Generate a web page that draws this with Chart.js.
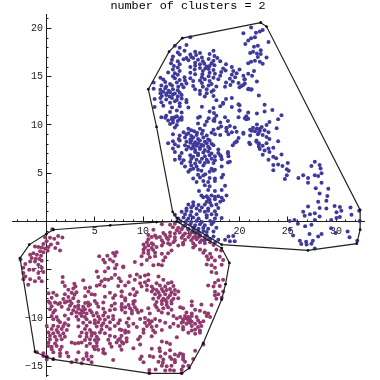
<!DOCTYPE html>
<html>
<head>
<meta charset="utf-8">
<style>html,body{margin:0;padding:0;background:#fff}canvas{display:block}</style>
<script src="https://cdn.jsdelivr.net/npm/chart.js@4"></script>
</head>
<body>
<canvas id="c" width="380" height="380"></canvas>
<script>
const chartTitle = "number of clusters = 2";
const xTickValues = [5, 10, 15, 20, 25, 30];
const yTickValues = [-15, -10, -5, 5, 10, 15, 20];

// flat reading list: x, y, x, y, ...
const blueUpperLeft = [
14.9,19.1, 13.3,18.2, 13.8,18.0, 14.5,18.3, 13.6,17.5, 14.3,17.7, 14.9,17.3, 15.4,17.6, 15.9,17.45, 17.3,17.7,
13.1,17.1, 13.8,17.3, 14.5,16.95, 15.0,17.05, 15.5,17.25, 16.1,17.0, 16.9,17.35, 17.4,17.15, 17.7,16.95,
13.0,16.75, 14.2,16.8, 14.7,16.7, 15.2,16.95, 15.7,16.75, 16.2,16.6, 16.8,16.85, 17.3,16.65,
12.9,16.4, 13.6,16.6, 15.4,16.45, 15.9,16.3, 16.35,16.35, 16.6,16.05, 17.1,16.4, 18.0,16.6,
13.2,16.1, 13.8,16.3, 14.9,16.0, 15.4,16.15, 15.9,15.9, 16.45,15.85, 16.9,16.1, 17.4,16.2, 18.6,16.3,
13.1,15.75, 13.6,15.95, 15.35,15.75, 16.2,15.6, 16.8,15.8, 17.3,15.7, 18.3,15.85, 18.55,15.65, 19.2,16.0, 20.0,15.75,
12.6,15.45, 13.3,15.35, 13.8,15.6, 14.9,15.4, 16.15,15.25, 16.9,15.4, 17.45,15.3, 18.1,15.5, 19.35,15.6, 19.7,15.35,
13.1,15.05, 13.6,15.2, 14.3,14.95, 15.4,15.25, 16.1,14.95, 16.8,15.05, 17.3,14.9, 18.0,15.1, 19.2,15.2, 19.55,14.95, 20.4,15.1,
11.8,14.9, 12.1,14.7, 13.3,14.85, 13.8,14.65, 14.35,14.6, 14.9,14.85, 15.9,14.6, 16.4,14.75, 16.9,14.55, 17.8,14.75, 19.0,14.8, 19.3,14.5, 20.5,14.7,
11.1,14.4, 12.3,14.45, 12.8,14.25, 13.5,14.4, 14.0,14.2, 14.5,14.3, 15.2,14.55, 16.1,14.35, 17.1,14.25, 18.6,14.4, 19.05,14.15, 19.9,14.35,
11.9,14.1, 12.4,14.0, 13.0,14.1, 13.65,13.95, 14.2,13.9, 15.2,14.05, 16.2,13.95, 16.8,14.1, 17.6,14.0, 18.5,13.95, 20.0,13.9, 20.4,14.15,
11.1,13.75, 11.8,13.65, 12.3,13.8, 12.65,13.55, 13.1,13.7, 13.6,13.6, 15.4,13.7, 15.9,13.55, 16.6,13.7, 17.3,13.6, 20.9,13.7, 21.2,13.65,
11.8,13.3, 12.1,13.45, 12.45,13.25, 12.8,13.4, 13.3,13.25, 13.8,13.35, 15.9,13.2, 16.6,13.3, 17.1,13.45,
11.95,13.0, 12.4,13.1, 12.75,12.95, 13.1,13.15, 13.6,12.95, 14.0,13.1, 16.4,12.95, 17.3,13.0,
11.2,12.7, 11.8,12.8, 12.4,12.65, 13.0,12.8, 13.5,12.6, 14.0,12.75, 14.5,12.6, 17.6,12.55, 19.2,12.8, 18.6,12.7,
11.9,12.35, 12.8,12.3, 13.3,12.45, 13.8,12.25, 14.5,12.35, 18.3,12.3,
11.2,11.85, 12.1,12.0, 13.0,11.8, 13.8,11.95, 14.7,11.8, 16.1,11.9, 17.3,11.75, 18.0,11.95, 19.2,11.85, 20.0,12.05,
12.8,11.35, 13.5,11.5, 14.0,11.3, 16.9,11.4, 17.35,11.25, 20.0,11.5, 20.9,11.3,
11.9,10.8, 12.4,10.95, 13.0,10.75, 13.5,10.9, 14.0,10.8, 15.9,10.85, 16.8,10.7, 17.6,10.95, 19.9,10.8, 20.7,10.9,
12.6,10.45, 13.1,10.55, 13.6,10.4, 14.0,10.55, 17.4,10.4
];
const blueTopRight = [
21.2,20.1, 20.4,19.5, 21.7,19.55, 22.4,19.85, 22.1,19.7, 21.6,19.1, 21.2,19.0, 20.9,18.75, 20.6,18.4, 23.0,18.6,
21.5,18.1, 21.9,18.2, 22.2,17.75, 21.4,17.6, 21.8,17.4, 22.2,17.35, 21.1,17.45, 21.9,17.05, 22.8,17.0,
20.9,16.4, 22.4,16.35, 21.2,16.55, 21.6,16.65, 22.1,16.55, 21.5,15.6, 20.9,15.3, 21.3,15.1, 20.55,14.75, 21.8,14.5,
20.55,14.3, 20.2,14.05, 20.95,13.75, 21.25,13.7, 22.0,13.05, 22.6,12.1, 19.9,12.15, 20.0,11.5, 18.3,12.2,
20.55,10.7, 20.9,10.65, 21.8,11.2, 22.6,11.4, 23.4,11.55, 24.35,11.0, 24.0,10.6, 23.1,10.3, 23.85,9.65, 21.4,9.7, 22.1,9.6,
22.8,10.0, 21.8,10.05, 22.3,9.8, 21.1,9.5, 22.6,9.45, 21.6,9.35, 23.0,9.25, 21.9,9.05, 22.4,8.95, 22.8,8.75, 23.1,8.55,
21.0,8.15, 22.8,8.1, 21.75,8.25, 24.0,8.3, 19.7,8.25, 22.0,8.0, 22.4,7.85, 19.3,7.9, 23.0,7.55, 23.5,7.65, 22.6,7.35, 23.1,7.2, 22.4,6.9, 24.35,6.95,
23.5,6.7, 18.1,6.7, 23.8,6.55, 23.0,6.4, 25.0,6.05, 23.5,5.85, 24.0,5.9, 24.45,5.75, 24.9,5.4, 25.1,5.25, 23.5,5.3, 24.9,4.8, 24.7,4.4,
20.4,9.1, 19.7,9.3, 18.65,9.65, 18.8,7.05, 19.0,6.2
];
const blueFarRight = [
26.1,4.5, 26.6,4.8, 27.8,6.2, 27.45,5.75, 28.3,5.85, 28.4,5.5, 28.5,5.0, 27.8,4.8, 27.1,4.5, 28.15,4.7, 27.1,4.0, 28.5,4.0,
27.9,3.45, 29.2,3.4, 28.3,2.9, 29.1,2.65, 28.15,2.05, 29.0,2.15, 28.3,1.4, 29.0,1.35, 27.1,1.55, 29.85,1.6, 30.4,1.5, 26.6,1.0, 30.05,0.95,
30.55,1.1, 32.4,1.1, 31.5,1.45, 31.6,0.7, 26.75,0.6, 27.8,0.85, 27.3,0.75, 28.3,0.5, 30.4,0.45, 30.05,0.35, 29.5,0.15, 27.8,0.15, 25.7,0.15, 25.2,0.05, 32.45,0.05,
26.05,-0.25, 26.8,-0.5, 27.45,-0.35, 25.2,-0.85, 25.55,-1.45, 27.25,-1.3, 28.5,-1.3, 28.15,-1.55, 26.25,-2.0, 27.6,-2.0, 32.2,-2.0, 26.9,-2.1,
26.4,-2.35, 26.95,-2.4, 27.45,-2.3, 27.8,-2.8, 29.5,-0.7, 29.95,-1.2, 31.2,-1.05, 31.4,-1.65
];
const blueMiddle = [
12.3,10.75, 13.0,10.6, 13.3,10.8, 13.8,10.65, 15.7,10.75, 17.4,10.65, 18.5,10.8, 20.7,10.6,
16.6,10.35, 17.3,10.45, 18.0,10.25, 18.8,10.4, 12.8,10.1, 13.1,10.25, 13.5,10.0, 15.7,10.15, 16.4,10.0,
13.3,9.75, 18.1,9.85, 18.65,9.7, 19.0,9.9, 19.5,9.75, 21.8,9.6,
14.7,9.6, 15.0,9.45, 15.9,9.6, 17.3,9.5, 17.8,9.65, 22.1,9.4,
14.2,9.25, 14.7,9.15, 15.3,9.35, 15.6,9.2, 16.2,9.4, 17.1,9.2, 18.65,9.35, 19.2,9.25, 20.4,9.2, 21.25,9.4, 22.0,9.2,
13.1,9.05, 13.8,8.9, 14.5,9.0, 15.0,8.85, 15.55,8.95, 16.1,9.1, 16.6,8.9, 17.45,9.05, 18.0,8.95, 18.85,9.05, 21.1,8.9,
13.7,8.55, 14.35,8.7, 14.9,8.5, 15.2,8.7, 15.7,8.55, 16.25,8.7, 16.75,8.5, 19.9,8.65,
13.1,8.3, 13.8,8.4, 14.5,8.25, 15.0,8.4, 15.4,8.2, 15.9,8.4, 16.4,8.25, 16.9,8.4, 19.7,8.3, 21.75,8.4,
12.6,8.1, 13.3,8.0, 14.9,8.15, 15.2,7.95, 15.7,8.1, 16.05,7.95, 16.6,8.1, 17.1,8.05, 19.5,8.15, 21.1,8.0, 22.0,8.1,
13.65,7.8, 14.35,7.9, 14.7,7.75, 15.2,7.7, 15.55,7.85, 15.9,7.7, 16.25,7.85, 16.75,7.75, 17.3,7.9, 22.0,7.75,
13.1,7.55, 14.5,7.45, 15.0,7.55, 15.4,7.4, 15.9,7.5, 16.4,7.4, 16.9,7.55, 17.8,7.45, 22.1,7.5,
13.3,7.2, 14.0,7.1, 15.4,7.2, 15.7,7.05, 16.25,7.15, 16.75,7.25, 17.1,7.05, 18.8,7.2, 17.8,7.1,
13.8,6.75, 14.9,6.85, 15.2,6.7, 15.7,6.85, 16.4,6.75, 16.9,6.85, 17.45,6.75, 18.0,6.85, 18.85,6.75,
13.3,6.4, 13.8,6.5, 14.2,6.35, 15.0,6.5, 15.55,6.4, 16.1,6.5, 16.6,6.4, 17.1,6.5, 17.45,6.35, 18.15,6.45,
14.0,6.05, 14.9,6.15, 15.4,6.0, 15.9,6.15, 16.4,6.05, 16.75,6.15, 17.3,6.05, 18.8,6.1,
14.35,5.7, 15.0,5.8, 15.55,5.7, 16.25,5.8, 18.15,5.7, 14.9,5.35, 15.2,5.45, 15.7,5.35, 17.1,5.45, 17.45,5.35,
14.7,5.15, 16.05,5.25, 16.9,5.15, 17.3,5.25, 15.7,4.85, 16.25,4.75, 18.3,4.85, 16.45,4.9,
15.2,4.45, 15.9,4.55, 16.9,4.5, 17.45,4.45, 18.15,4.55, 15.55,4.1, 16.25,4.2, 16.75,4.1, 17.45,4.2,
16.4,3.75, 16.9,3.65, 18.5,3.7, 15.8,3.15, 16.75,3.25, 17.45,3.15, 18.15,3.25,
16.05,2.7, 16.6,2.6, 17.1,2.7, 17.8,2.6, 18.65,2.7, 16.9,2.25, 17.45,2.3, 18.3,2.2
];
const blueLower = [
16.25,2.5, 16.75,2.4, 17.45,2.55, 18.15,2.45, 16.6,2.05, 16.95,1.95, 18.0,2.05, 15.2,2.0,
14.7,1.75, 15.2,1.65, 15.75,1.7, 16.4,1.75, 17.1,1.65, 17.6,1.75, 14.5,1.35, 15.0,1.45, 15.55,1.35, 16.1,1.45, 16.75,1.35, 17.8,1.4,
14.0,1.0, 14.5,1.1, 15.0,1.0, 15.9,1.1, 16.4,1.0, 16.75,1.1, 17.45,1.05, 13.3,0.7, 14.35,0.75, 14.9,0.65, 15.55,0.75, 16.6,0.65, 17.1,0.75, 17.6,0.7,
13.65,0.3, 14.2,0.4, 14.7,0.3, 15.2,0.4, 15.75,0.3, 16.6,0.4, 17.45,0.3, 18.15,0.35, 13.85,-0.05, 14.5,0.05, 15.0,-0.05, 15.55,0.05, 16.1,-0.05, 16.95,0.05, 17.3,-0.05,
14.35,-0.4, 14.9,-0.3, 15.4,-0.4, 15.9,-0.3, 16.4,-0.4, 17.1,-0.3, 14.7,-0.75, 15.2,-0.65, 15.75,-0.75, 16.25,-0.65, 16.75,-0.75, 17.6,-0.65,
15.2,-1.05, 15.75,-1.1, 16.25,-1.0, 16.6,-1.1, 17.3,-1.05, 15.9,-1.5, 16.6,-1.45, 17.3,-1.55, 18.85,-1.55, 19.35,-1.5,
16.4,-1.95, 16.95,-1.85, 17.8,-1.9, 18.5,-1.9, 19.0,-2.05, 19.5,-2.05, 17.45,-2.2
];
const redUpperLeft = [
0.6,-0.8, 0.36,-1.7, 0.8,-1.8, 1.2,-1.5, 1.64,-1.66, -0.15,-1.65, 0.0,-2.05, 0.46,-2.4, -0.33,-2.35, 1.15,-2.25, 0.9,-2.75, -0.5,-2.7, -0.15,-2.8,
1.4,-3.0, -1.2,-2.6, -0.85,-2.65, 0.2,-2.65, -0.67,-3.1, 0.12,-3.05, -0.33,-3.2, -1.36,-3.3, -1.0,-3.45, -1.7,-3.45, -0.57,-3.55, -1.54,-3.8, -1.12,-3.86,
-0.74,-3.9, -2.7,-3.95, -1.7,-4.15, -1.2,-4.15, -0.5,-4.07, -2.2,-4.4, -0.85,-4.5, -2.4,-4.8, -0.5,-4.8, -1.8,-5.0, -1.36,-5.0, -0.33,-5.25, -2.4,-5.35, -0.85,-5.35,
-2.2,-5.7, -2.4,-6.0, -1.7,-6.0, -1.9,-6.55, -1.2,-6.2, -0.5,-6.2, -0.78,-5.85
];
const redLeftCentre = [
1.67,-5.76, 5.36,-5.76, 1.67,-6.3, 1.9,-6.7, 3.0,-6.75, 2.26,-7.07, 2.88,-6.45, 3.8,-6.1, 4.0,-6.9, 4.5,-6.85, 2.77,-6.95, 4.33,-7.25, 7.77,-7.25, 5.2,-5.18, 6.05,-5.2, 5.2,-6.66,
5.46,-3.6, 6.3,-3.55, 5.88,-3.97, 6.57,-3.95, 6.05,-4.25, 6.9,-4.14, 6.9,-3.28, 7.26,-3.2, 7.1,-3.55, 6.4,-4.83, 7.1,-4.85, 7.26,-4.5, 7.95,-4.66, 7.1,-5.52,
6.74,-5.86, 7.5,-5.9, 6.4,-6.04, 6.05,-6.0, 5.7,-6.2, 7.7,-6.2, 6.0,-6.73, 7.43,-6.7, 5.53,-6.55, 5.0,-7.6, 4.67,-7.55, 7.1,-7.65, 2.9,-7.6, 1.9,-7.55, 1.05,-7.65,
6.57,-7.4, 2.6,-7.4, 3.1,-7.35, 0.7,-7.4, 0.2,-7.45, 7.77,-7.76, 6.05,-7.8, 4.0,-7.76, 6.9,-7.93, 2.77,-7.95, 0.53,-7.9, 2.26,-7.83, 1.74,-8.04,
1.4,-8.45, 0.88,-8.4, 4.0,-8.45, 2.1,-8.3, 2.43,-8.25, 3.3,-8.3, 5.0,-8.25, 0.2,-8.3, 4.5,-8.6,
0.36,-8.45, 1.2,-8.55, 1.9,-8.4, 2.6,-8.5, 4.3,-8.4, 5.2,-8.5, 5.88,-8.4, 7.08,-8.5,
0.53,-8.8, 1.57,-8.85, 2.43,-8.75, 2.95,-8.85, 3.3,-8.7, 3.8,-8.85, 4.33,-8.75, 5.36,-8.85, 6.74,-8.75, 7.77,-8.85,
0.36,-9.1, 0.88,-9.2, 2.26,-9.1, 2.77,-9.2, 3.3,-9.05, 3.64,-9.2, 3.98,-9.1, 4.5,-9.2, 5.88,-9.05, 6.57,-9.2, 7.08,-9.1,
0.7,-9.45, 2.6,-9.55, 3.1,-9.4, 3.46,-9.55, 3.8,-9.45, 4.15,-9.55, 4.67,-9.4, 5.2,-9.5, 6.05,-9.45,
0.53,-9.8, 1.05,-9.9, 1.9,-9.75, 3.1,-9.85, 3.64,-9.8, 3.98,-9.9, 4.85,-9.75, 5.36,-9.85, 5.88,-9.75, 6.4,-9.9, 6.9,-9.8,
0.7,-10.15, 1.2,-10.25, 2.26,-10.1, 3.3,-10.2, 4.15,-10.15, 5.0,-10.25, 5.53,-10.1, 6.05,-10.2, 6.9,-10.15, 7.6,-10.25,
1.4,-10.45, 1.9,-10.55, 3.8,-10.5, 4.5,-10.45, 5.0,-10.55, 5.36,-10.45, 5.88,-10.55, 6.57,-10.45, 7.43,-10.55,
0.02,-10.85, 0.7,-10.8, 1.2,-10.9, 1.74,-10.85, 2.26,-10.75, 3.3,-10.9, 4.15,-10.8, 5.2,-10.9, 5.7,-10.8, 6.23,-10.9, 7.08,-10.85,
0.53,-11.15, 1.05,-11.25, 1.57,-11.15, 2.1,-11.25, 3.98,-11.15, 4.5,-11.25, 5.7,-11.2, 6.57,-11.15, 7.77,-11.25,
0.2,-11.5, 0.7,-11.6, 1.2,-11.5, 1.74,-11.6, 3.64,-11.5, 4.15,-11.6, 4.67,-11.5, 5.0,-11.6, 5.53,-11.5, 6.05,-11.6,
0.36,-11.85, 0.88,-11.95, 1.4,-11.85, 1.9,-11.95, 3.46,-11.9, 4.15,-11.95, 4.67,-11.85, 5.2,-11.95, 6.57,-11.85, 7.08,-11.95, 7.77,-11.85,
0.36,-12.2, 1.05,-12.3, 1.57,-12.2, 3.98,-12.3, 4.5,-12.2, 5.0,-12.3, 5.36,-12.2, 6.4,-12.25, 7.43,-12.3,
0.2,-12.55, 0.88,-12.65, 2.6,-12.55, 2.95,-12.65, 3.3,-12.6, 3.64,-12.55, 4.5,-12.65, 5.2,-12.55, 6.57,-12.65, 7.26,-12.55, 7.95,-12.65,
0.2,-12.9, 0.53,-13.0, 1.05,-12.9, 1.57,-13.0, 4.15,-12.9, 4.85,-13.0, 5.2,-12.9, 6.74,-13.0, 7.6,-12.9,
0.53,-13.25, 1.4,-13.3, 5.0,-13.25, 5.36,-13.3, 5.88,-13.25, 7.77,-13.3,
-1.0,-13.55, -0.33,-13.65, 0.7,-13.55, 1.4,-13.65, 2.1,-13.6, 3.3,-13.55, 4.15,-13.65, 5.88,-13.6, 6.05,-13.7,
-0.33,-13.95, 0.02,-14.0, 1.4,-13.95, 2.26,-14.0, 4.15,-13.95, 4.67,-14.0, 0.02,-14.3, 0.7,-14.25, 3.1,-14.35, 3.8,-14.25, 4.33,-14.3, 6.9,-14.35, 2.6,-14.6, 3.64,-14.7, 4.67,-14.6
];
const redUpperRight = [
11.95,-0.3, 12.8,-0.35, 13.3,-0.25, 13.1,-0.6, 13.65,-0.65, 14.15,-0.55, 11.07,-0.85, 13.5,-0.9, 14.0,-0.8, 14.7,-0.85,
12.1,-1.2, 12.8,-1.15, 13.3,-1.25, 13.8,-1.15, 14.35,-1.25, 15.0,-1.15, 15.55,-1.2, 10.55,-1.4, 11.25,-1.45, 12.3,-1.4, 12.8,-1.5, 14.15,-1.45, 14.85,-1.4, 15.4,-1.5, 15.9,-1.4,
10.9,-1.6, 11.4,-1.7, 11.75,-1.6, 12.45,-1.7, 13.3,-1.65, 14.0,-1.7, 14.7,-1.6, 15.2,-1.7, 15.7,-1.65, 16.4,-1.6,
10.55,-1.85, 11.95,-1.95, 12.6,-1.85, 13.3,-1.95, 14.35,-1.9, 15.0,-1.95, 15.55,-1.85, 16.05,-1.95, 16.75,-1.85,
10.4,-2.15, 10.9,-2.25, 12.1,-2.2, 12.6,-2.25, 13.15,-2.15, 14.15,-2.2, 15.2,-2.25, 15.9,-2.15, 16.4,-2.25, 16.95,-2.15,
10.05,-2.4, 10.55,-2.5, 11.05,-2.4, 11.95,-2.5, 12.8,-2.4, 13.65,-2.5, 14.15,-2.4, 15.4,-2.5, 17.3,-2.45, 10.2,-2.7, 10.9,-2.75, 11.4,-2.65, 15.2,-2.7,
10.05,-2.9, 10.55,-3.0, 11.05,-2.95, 12.95,-3.0, 15.9,-2.9, 16.4,-3.0, 17.6,-2.9, 18.1,-3.0, 10.05,-3.25, 10.55,-3.35, 11.25,-3.25, 11.95,-3.35, 12.6,-3.3, 16.25,-3.25, 16.95,-3.35,
9.85,-3.6, 10.7,-3.7, 11.25,-3.6, 12.3,-3.7, 16.6,-3.6, 17.1,-3.7, 17.95,-3.65, 10.4,-4.0, 12.1,-4.05, 16.75,-3.95, 17.45,-4.05, 18.3,-4.0, 9.15,-4.2,
9.85,-4.45, 11.07,-4.55, 11.6,-4.45, 11.95,-4.55, 16.6,-4.45, 17.1,-4.55, 18.15,-4.5, 7.95,-4.75, 17.45,-4.8, 17.1,-5.25, 17.6,-5.35,
9.35,-5.5, 10.2,-5.6, 10.55,-5.5, 8.65,-5.65, 9.7,-5.75, 11.6,-5.7,
9.15,-6.05, 10.55,-6.1, 12.1,-6.05, 17.8,-6.1, 18.3,-6.05, 8.5,-6.3, 9.7,-6.4, 10.2,-6.3, 11.4,-6.4, 12.95,-6.3, 12.6,-6.4, 17.45,-6.35
];
const redRightCentre = [
8.15,-6.65, 9.85,-6.75, 10.4,-6.65, 10.9,-6.75, 11.75,-6.65, 12.3,-6.75, 13.15,-6.7, 16.75,-6.65, 17.3,-6.75, 17.95,-6.7,
9.0,-7.0, 10.4,-7.1, 11.05,-7.0, 11.4,-7.1, 11.95,-7.0, 12.45,-7.1, 12.8,-7.0, 13.3,-7.1,
7.8,-7.25, 9.35,-7.35, 10.9,-7.25, 11.6,-7.35, 12.1,-7.25, 12.95,-7.35, 13.65,-7.25, 17.45,-7.3, 18.3,-7.25,
8.65,-7.55, 9.15,-7.65, 11.25,-7.55, 11.75,-7.65, 12.3,-7.55, 12.8,-7.65, 13.3,-7.55, 17.45,-7.65, 17.8,-7.55,
8.15,-7.95, 11.05,-8.0, 11.6,-7.9, 12.1,-8.0, 12.6,-7.9, 13.15,-8.0, 13.65,-7.95, 17.6,-8.0, 18.15,-7.9,
9.0,-8.3, 11.4,-8.35, 11.95,-8.25, 12.45,-8.35, 12.95,-8.25, 15.05,-8.3, 8.15,-8.2, 9.15,-8.25, 12.3,-8.15, 12.95,-8.5, 15.05,-8.7,
7.8,-8.55, 8.5,-8.65, 9.0,-8.55, 11.25,-8.65, 11.95,-8.55, 12.45,-8.65, 16.05,-8.6, 17.1,-8.65,
8.15,-8.9, 8.65,-9.0, 9.15,-8.9, 10.55,-9.0, 11.4,-8.9, 12.1,-9.0, 12.6,-8.9, 14.15,-9.0, 13.85,-8.9,
7.8,-9.15, 8.85,-9.25, 9.35,-9.15, 9.85,-9.25, 11.6,-9.2, 12.95,-9.15, 15.9,-9.25, 15.4,-9.15,
8.15,-9.45, 8.85,-9.55, 9.5,-9.45, 10.7,-9.55, 11.95,-9.45, 12.6,-9.55, 14.5,-9.45, 15.05,-9.55, 16.4,-9.45, 16.75,-9.55,
13.15,-9.8, 13.85,-9.9, 14.35,-9.8, 14.7,-9.9, 15.05,-9.8, 15.55,-9.9, 16.6,-9.8, 16.95,-9.9,
8.5,-10.05, 9.7,-10.1, 10.2,-10.0, 11.25,-10.1, 13.5,-10.05, 14.15,-10.15, 14.5,-10.05, 14.85,-10.15,
10.55,-10.25, 10.9,-10.35, 11.75,-10.3, 14.15,-10.4, 14.7,-10.3, 15.05,-10.4, 15.7,-10.25, 16.25,-10.35,
8.3,-10.5, 9.0,-10.6, 10.2,-10.5, 10.7,-10.6, 12.3,-10.5, 13.15,-10.6, 14.0,-10.5, 14.5,-10.6, 14.85,-10.5, 15.4,-10.6, 15.9,-10.5,
8.5,-10.85, 9.35,-10.95, 10.4,-10.85, 10.9,-10.95, 11.4,-10.85, 12.8,-10.95, 13.65,-10.85, 14.15,-10.95, 15.05,-10.85, 15.7,-10.95, 16.05,-10.85,
7.6,-11.2, 8.15,-11.3, 10.05,-11.2, 11.05,-11.3, 11.95,-11.25, 14.15,-11.2, 15.05,-11.3, 15.4,-11.2, 15.9,-11.3,
8.15,-11.55, 8.5,-11.45, 10.05,-11.55, 11.25,-11.5, 14.7,-11.55, 15.4,-11.65, 15.9,-11.55,
9.7,-11.95, 10.9,-11.9, 13.5,-12.0, 7.6,-12.15, 8.3,-12.1, 9.5,-12.2, 7.8,-12.5, 8.3,-12.45, 12.45,-12.55, 11.95,-12.45,
9.7,-12.75, 12.8,-12.7, 16.25,-12.75, 9.0,-13.15, 10.9,-13.2, 11.7,-13.15, 11.75,-13.45, 12.8,-13.35, 15.4,-13.4,
12.3,-13.7, 13.3,-13.8, 13.85,-13.7, 14.15,-13.8, 9.85,-14.0, 10.7,-13.95, 11.05,-14.05, 11.8,-14.0, 12.8,-14.05, 13.65,-13.95, 14.15,-14.05,
9.7,-14.25, 12.1,-14.3, 12.95,-14.25, 13.3,-14.35, 14.15,-14.3, 15.2,-14.25, 10.05,-14.6, 11.6,-14.55, 12.05,-14.65, 13.3,-14.6, 14.35,-14.55,
11.95,-14.95, 12.45,-15.0, 12.95,-14.95, 14.15,-15.0, 14.7,-14.95, 10.65,-15.4, 11.3,-15.35, 12.3,-15.45, 12.8,-15.4, 13.2,-15.45, 14.0,-15.35, 10.65,-15.7, 14.0,-15.7
];

const blueHull = [22.2,20.6, 14.07,19.0, 12.7,17.6, 10.55,13.7, 11.4,9.8, 13.07,1.0, 13.5,0.35, 18.15,-2.4, 27.1,-3.0, 32.15,-2.3, 32.5,-0.85, 32.5,1.2, 22.8,20.2];
const redHull = [0.7,-0.86, 0,-1.28, -1.78,-2.4, -2.75,-3.8, -1.2,-13.5, 0,-14.07, 0.7,-14.3, 10.65,-15.75, 14.0,-15.75, 14.8,-15.2, 16.25,-12.6, 18.15,-8.1, 18.55,-6.5, 18.95,-4.3, 18.15,-2.76, 13.5,0, 11.4,-0.07, 6.6,-0.4];

const xMin = -3.58, xMax = 32.9, yMin = -16.02, yMax = 21.45;
const ink = '#1c1c1c', blue = '#3f3a9b', red = '#923a6e';
const pairs = a => { const out = []; for (let i = 0; i + 1 < a.length; i += 2) out.push({x: a[i], y: a[i + 1]}); return out; };
const closed = a => { const p = pairs(a); return [...p, p[0]]; };
const labelFont = {family: "'Liberation Mono'", size: 10};

const zeroPad = s => { s.paddingTop = s.paddingBottom = s.paddingLeft = s.paddingRight = 0; };
const flatH = s => { s.height = 0; zeroPad(s); };
const flatW = s => { s.width = 0; zeroPad(s); };
const hullSet = d => ({data: closed(d), showLine: true, tension: 0, borderColor: '#222', borderWidth: 1.2, pointRadius: 1.4, pointBackgroundColor: '#111', pointBorderWidth: 0, fill: false});
const dotSet = (d, c) => ({data: pairs(d), showLine: false, backgroundColor: c, borderWidth: 0, pointRadius: 2, pointBorderWidth: 0});
const xBase = {type: 'linear', axis: 'x', min: xMin, max: xMax, position: {y: 0}, afterFit: flatH};
const yBase = {type: 'linear', axis: 'y', min: yMin, max: yMax, afterFit: flatW};

new Chart(document.getElementById('c'), {
  type: 'scatter',
  data: {datasets: [
    hullSet(blueHull), hullSet(redHull),
    dotSet([...blueUpperLeft, ...blueTopRight, ...blueFarRight, ...blueMiddle, ...blueLower], blue),
    dotSet([...redUpperLeft, ...redLeftCentre, ...redUpperRight, ...redRightCentre], red)
  ]},
  options: {
    responsive: false, animation: false, events: [],
    layout: {padding: {left: 12, right: 16, top: 0, bottom: -2}},
    plugins: {
      legend: {display: false}, tooltip: {enabled: false},
      title: {display: true, text: chartTitle, color: '#000', padding: {top: 0, bottom: 2.75},
        font: {family: "'Liberation Mono'", size: 11.75, weight: 'normal', lineHeight: 1}}
    },
    scales: {
      x: {...xBase,
        ticks: {display: false, stepSize: 1, includeBounds: false, autoSkip: false},
        grid: {drawOnChartArea: false, tickLength: -2.5, tickColor: ink, tickWidth: 1},
        border: {display: true, color: ink, width: 1}},
      xMajor: {...xBase,
        afterBuildTicks: s => { s.ticks = xTickValues.map(value => ({value})); },
        ticks: {stepSize: 5, includeBounds: false, autoSkip: false, maxRotation: 0, padding: 8.5, color: '#222', font: labelFont},
        grid: {drawOnChartArea: false, tickLength: -4.5, tickColor: ink, tickWidth: 1},
        border: {display: false}},
      y: {...yBase, position: {x: 0},
        ticks: {display: false, stepSize: 1, includeBounds: false, autoSkip: false},
        grid: {drawOnChartArea: false, tickLength: -2.5, tickColor: ink, tickWidth: 1},
        border: {display: true, color: ink, width: 1}},
      yMajor: {...yBase, position: {x: 0},
        afterBuildTicks: s => { s.ticks = yTickValues.map(value => ({value})); },
        ticks: {display: false, stepSize: 5, includeBounds: false, autoSkip: false},
        grid: {drawOnChartArea: false, tickLength: -4.5, tickColor: ink, tickWidth: 1},
        border: {display: false}},
      yLabels: {...yBase, position: {x: -0.38},
        afterBuildTicks: s => { s.ticks = yTickValues.map(value => ({value})); },
        ticks: {stepSize: 5, includeBounds: false, autoSkip: false, color: '#222', font: labelFont,
          callback: v => String(v).replace('-', '\u2212')},
        grid: {display: false},
        border: {display: false}}
    }
  }
});
</script>
</body>
</html>
